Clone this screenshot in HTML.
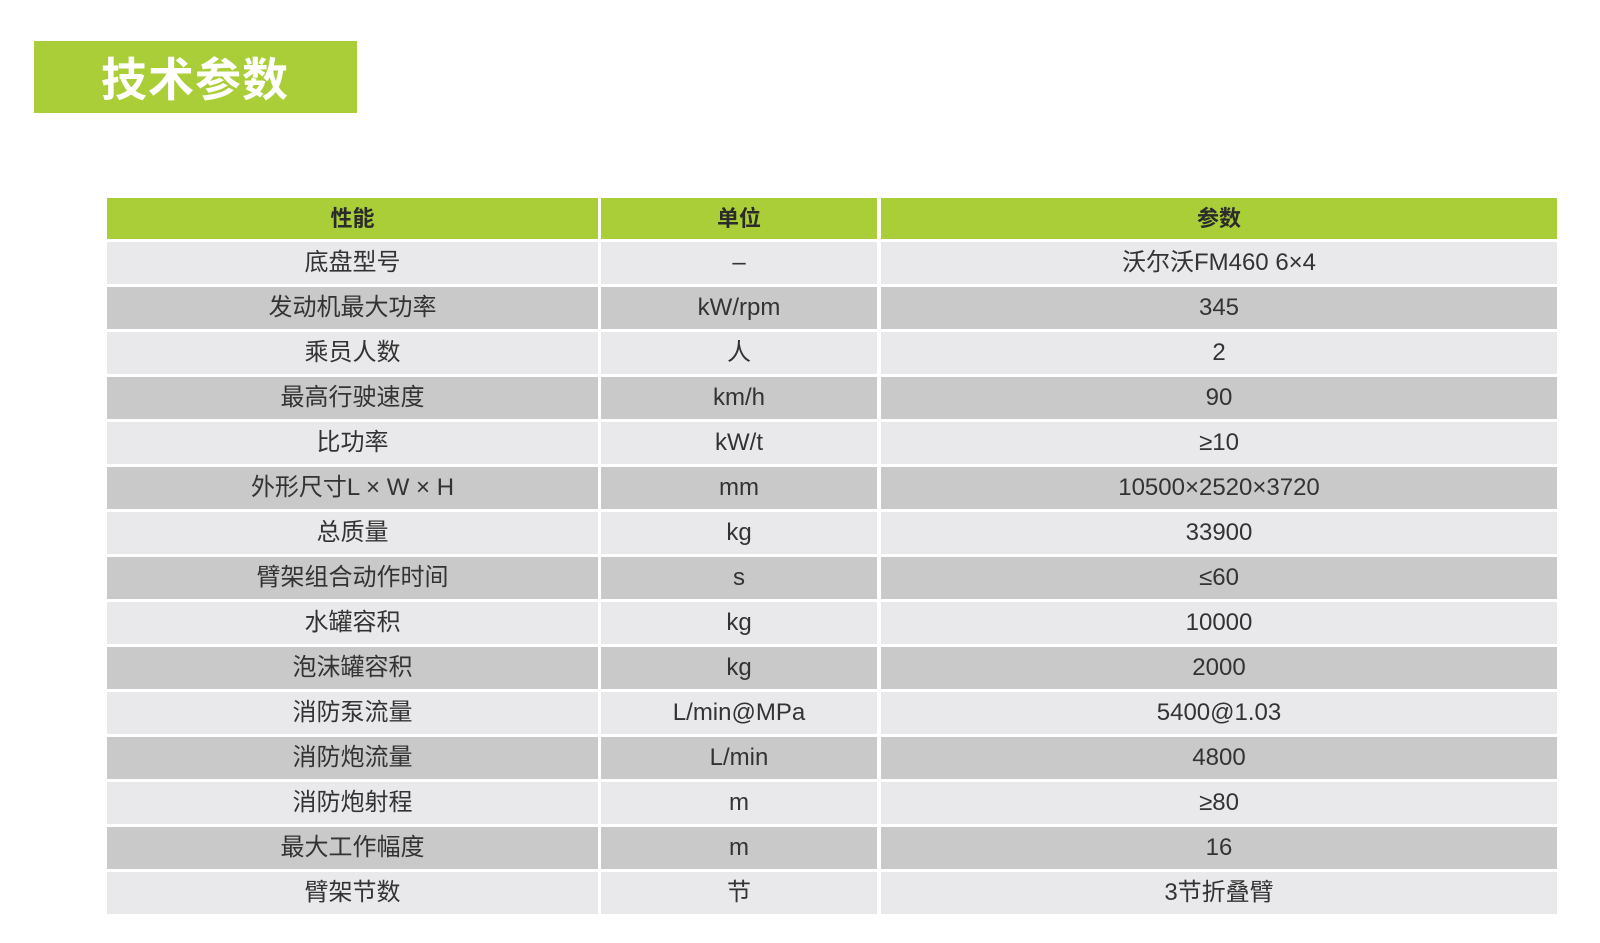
<!DOCTYPE html>
<html><head><meta charset="utf-8"><style>
body{margin:0;width:1600px;height:943px;background:#fff;position:relative;overflow:hidden;font-family:"Liberation Sans","Noto Sans CJK SC",sans-serif;}
.t{position:absolute;left:34px;top:41px;width:323px;height:72px;background:#a9ce38;color:#fff;font-weight:bold;font-size:46px;line-height:72px;text-indent:67px;letter-spacing:1px;font-family:"Noto Sans CJK SC",sans-serif;}
.c{position:absolute;text-align:center;color:#333;font-size:24px;font-family:"Liberation Sans","Noto Sans CJK SC",sans-serif;}
.h{background:#a9ce38;font-weight:bold;font-size:22px;color:#2b2b2b;}
.l{background:#e9e9eb}.d{background:#c9c9c9}
</style></head><body>
<div class="t">技术参数</div>
<div id="tb"></div>
<script>
var cols=[[107,491],[601,276],[881,676]];
var rows=[["性能","单位","参数"],["底盘型号","–","沃尔沃FM460 6×4"],["发动机最大功率","kW/rpm","345"],["乘员人数","人","2"],["最高行驶速度","km/h","90"],["比功率","kW/t","≥10"],["外形尺寸L × W × H","mm","10500×2520×3720"],["总质量","kg","33900"],["臂架组合动作时间","s","≤60"],["水罐容积","kg","10000"],["泡沫罐容积","kg","2000"],["消防泵流量","L/min@MPa","5400@1.03"],["消防炮流量","L/min","4800"],["消防炮射程","m","≥80"],["最大工作幅度","m","16"],["臂架节数","节","3节折叠臂"]];
var h='';
rows.forEach(function(r,i){var top,ht,cls;
if(i==0){top=198;ht=41;cls='h';}else{top=Math.round(242+45*(i-1));ht=42;cls=(i%2==1)?'l':'d';}
for(var j=0;j<3;j++){h+='<div class="c '+cls+'" style="left:'+cols[j][0]+'px;width:'+cols[j][1]+'px;top:'+top+'px;height:'+ht+'px;line-height:'+ht+'px">'+r[j]+'</div>';}
});
document.getElementById('tb').innerHTML=h;
</script>
</body></html>
